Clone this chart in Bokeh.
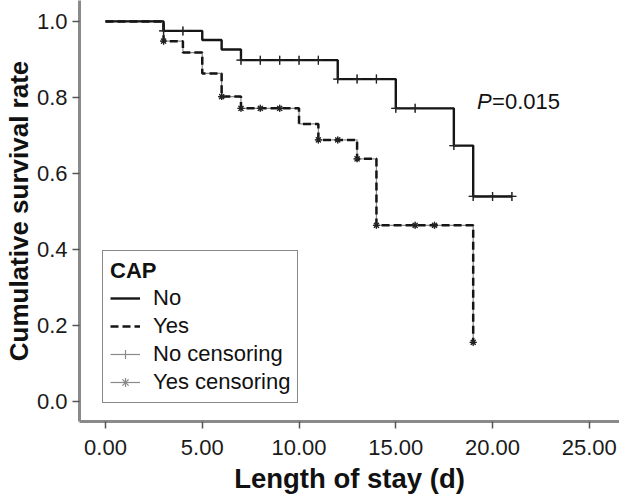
from bokeh.plotting import figure
from bokeh.models import Range1d, FixedTicker, Legend, LegendItem, Label
from bokeh.embed import file_html
from bokeh.resources import INLINE

# ---- data ----
no_time = [0, 3, 5, 6, 7, 12, 15, 18, 19, 21]
no_surv = [1.0, 0.975, 0.951, 0.926, 0.898, 0.848, 0.771, 0.673, 0.539, 0.539]

yes_time = [0, 3, 4, 5, 6, 7, 10, 11, 13, 14, 19]
yes_surv = [1.0, 0.948, 0.918, 0.863, 0.802, 0.771, 0.730, 0.688, 0.638, 0.463, 0.155]

no_cens_time = [3, 4, 7, 8, 9, 10, 11, 12, 13, 14, 15, 16, 18, 19, 20, 21]
no_cens_surv = [0.975, 0.975, 0.898, 0.898, 0.898, 0.898, 0.898, 0.848, 0.848, 0.848,
                0.771, 0.771, 0.673, 0.539, 0.539, 0.539]

yes_cens_time = [3, 6, 7, 8, 9, 11, 12, 13, 14, 16, 17, 19]
yes_cens_surv = [0.948, 0.802, 0.771, 0.771, 0.771, 0.688, 0.688, 0.638, 0.463, 0.463,
                 0.463, 0.155]

x_ticks = [0, 5, 10, 15, 20, 25]
x_tick_labels = ["0.00", "5.00", "10.00", "15.00", "20.00", "25.00"]
y_ticks = [0.0, 0.2, 0.4, 0.6, 0.8, 1.0]
y_tick_labels = ["0.0", "0.2", "0.4", "0.6", "0.8", "1.0"]

x_title = "Length of stay (d)"
y_title = "Cumulative survival rate"
legend_title = "CAP"
legend_labels = ["No", "Yes", "No censoring", "Yes censoring"]

p_label_italic = "P"
p_label_rest = "=0.015"
p_label_pos = (19.2, 0.79)

FONT = "Liberation Sans"

p = figure(width=619, height=496,
           x_range=Range1d(-1.344, 26.56), y_range=Range1d(-0.0535, 1.055),
           output_backend="svg", toolbar_location=None,
           min_border_left=79, min_border_right=0, min_border_top=0, min_border_bottom=73)

p.outline_line_color = None
p.grid.visible = False
p.background_fill_color = "white"
p.border_fill_color = "white"

for ax in (p.xaxis[0], p.yaxis[0]):
    ax.axis_line_color = "#8a8a8a"
    ax.axis_line_width = 3
    ax.major_tick_line_color = "#555555"
    ax.major_tick_line_width = 1.5
    ax.major_tick_in = 0
    ax.major_tick_out = 7
    ax.minor_tick_line_color = None
    ax.major_label_text_font = FONT
    ax.major_label_text_font_size = "22px"
    ax.major_label_text_color = "#1a1a1a"
    ax.axis_label_text_font = FONT
    ax.axis_label_text_font_style = "bold"
    ax.axis_label_text_color = "#111111"

p.xaxis.ticker = FixedTicker(ticks=x_ticks)
p.xaxis.major_label_overrides = dict(zip(x_ticks, x_tick_labels))
p.yaxis.ticker = FixedTicker(ticks=y_ticks)
p.yaxis.major_label_overrides = dict(zip(y_ticks, y_tick_labels))
p.xaxis.axis_label = x_title
p.yaxis.axis_label = y_title
p.xaxis.axis_label_text_font_size = "27.5px"
p.yaxis.axis_label_text_font_size = "26px"
p.xaxis.major_label_standoff = 11
p.xaxis.axis_label_standoff = 5
p.yaxis.major_label_standoff = 5
p.yaxis.axis_label_standoff = 0

line_color = "#151515"
grey = "#8a8a8a"

# grey copies drawn first (hidden underneath) so the legend can show grey glyphs
g_no_line = p.step(no_time, no_surv, mode="after", line_color=grey, line_width=1.2)
g_yes_line = p.step(yes_time, yes_surv, mode="after", line_color=grey, line_width=1.2)
g_nc = p.scatter(no_cens_time, no_cens_surv, marker="cross", size=9, line_color=grey,
                 line_width=1.2)
g_yc = p.scatter(yes_cens_time, yes_cens_surv, marker="asterisk", size=7, line_color=grey,
                 line_width=1.2)

r_no = p.step(no_time, no_surv, mode="after", line_color=line_color, line_width=2.4)
r_yes = p.step(yes_time, yes_surv, mode="after", line_color=line_color, line_width=2.5,
               line_dash="8 4")
p.scatter(no_cens_time, no_cens_surv, marker="cross", size=9, line_color="#222222",
          line_width=1.3)
p.scatter(yes_cens_time, yes_cens_surv, marker="asterisk", size=7, line_color="#222222",
          line_width=1.3)

legend = Legend(items=[LegendItem(label=legend_labels[0], renderers=[r_no]),
                       LegendItem(label=legend_labels[1], renderers=[r_yes]),
                       LegendItem(label=legend_labels[2], renderers=[g_no_line, g_nc]),
                       LegendItem(label=legend_labels[3], renderers=[g_yes_line, g_yc])],
                location=(23, 18), title=legend_title,
                title_text_font=FONT, title_text_font_size="22px",
                title_text_font_style="bold", title_text_color="#111111",
                label_text_font=FONT, label_text_font_size="22px",
                label_text_color="#111111",
                glyph_width=30, glyph_height=22, label_height=24, label_standoff=13,
                padding=7, spacing=2, margin=0, title_standoff=1,
                border_line_color="#111111", border_line_width=1.5,
                background_fill_color="white", background_fill_alpha=1.0)
p.add_layout(legend)

p.add_layout(Label(x=p_label_pos[0], y=p_label_pos[1], text=p_label_italic,
                   text_font=FONT, text_font_size="22px", text_font_style="italic",
                   text_baseline="middle", text_color="#111111"))
p.add_layout(Label(x=p_label_pos[0], y=p_label_pos[1], x_offset=15, text=p_label_rest,
                   text_font=FONT, text_font_size="22px",
                   text_baseline="middle", text_color="#111111"))

open("out.html", "w").write(file_html(p, INLINE))
